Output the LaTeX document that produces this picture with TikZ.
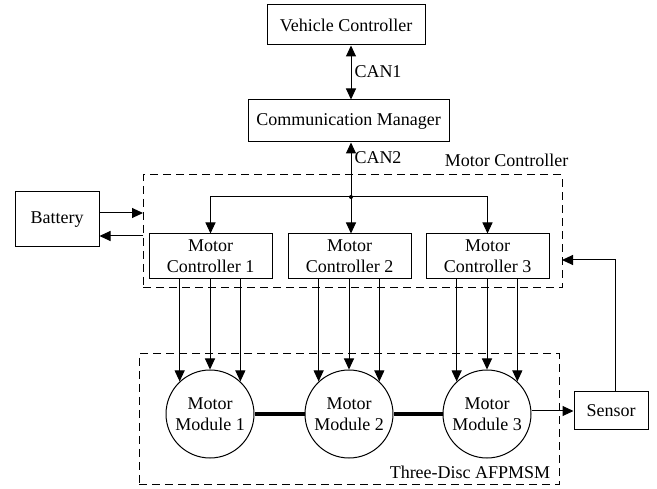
\documentclass[tikz,border=0pt]{standalone}
\usepackage{fontspec}
\setmainfont{Liberation Serif}
\newfontfamily\figserif{Liberation Serif}
\usetikzlibrary{arrows.meta}
\begin{document}
\begin{tikzpicture}[x=1pt,y=-1pt,
  line width=1pt,
  txt/.style={font=\figserif\fontsize{18}{21}\selectfont, inner sep=0pt},
  blk/.style={txt, draw, align=center},
  module/.style={txt, draw, circle, minimum size=88pt, align=center},
  group/.style={draw, dash pattern=on 8pt off 5pt, inner sep=0pt},
  arr/.style={-{Triangle[length=11pt,width=10pt]}},
  darr/.style={{Triangle[length=11pt,width=10pt]}-{Triangle[length=11pt,width=10pt]}},
  shaft/.style={line width=4.5pt}]
\useasboundingbox (0,0) rectangle (657,489);

% dashed group outlines
\node[group, minimum width=419pt, minimum height=113pt] (mcbox) at (352.5,231.5) {};
\node[group, minimum width=420pt, minimum height=131pt] (afpm) at (349,419.5) {};
\node[txt] (mclabel) at (506.5,160) {Motor Controller};
\node[txt] (afpmlabel) at (470,472) {Three-Disc AFPMSM};

% upper blocks
\node[blk, minimum width=158pt, minimum height=40pt] (vc) at (346,25) {Vehicle Controller};
\node[blk, minimum width=201pt, minimum height=42pt] (cm) at (348.5,121) {Communication Manager};
\node[blk, minimum width=84pt, minimum height=55pt] (bat) at (57,219.5) {Battery};

% motor controllers
\node[blk, minimum width=123pt, minimum height=45pt] (c1) at (210.5,256.5) {Motor\\Controller 1};
\node[blk, minimum width=123pt, minimum height=45pt] (c2) at (349.5,256.5) {Motor\\Controller 2};
\node[blk, minimum width=123pt, minimum height=45pt] (c3) at (487.5,256.5) {Motor\\Controller 3};

% motor modules
\node[module] (m1) at (210,414) {Motor\\Module 1};
\node[module] (m2) at (349,414) {Motor\\Module 2};
\node[module] (m3) at (487,414) {Motor\\Module 3};

\node[blk, minimum width=74pt, minimum height=38pt] (sen) at (611,411) {Sensor};

% bus junction and helper points
\coordinate (j) at (351,197);
\coordinate (bin) at (143,213);
\coordinate (bout) at (143,236);
\coordinate (fb) at (562,260);

% CAN links
\draw[darr] (j |- vc.south) -- (j |- cm.north);
\node[txt, anchor=west] (can1) at (354,72) {CAN1};
\draw[arr] (j) -- (j |- cm.south);
\node[txt, anchor=west] (can2) at (354,158) {CAN2};
\fill (j) circle (2pt);

% distribution bus
\draw[arr] (j) -| (c1.north);
\draw[arr] (j) -| (c3.north);
\draw[arr] (j) -- (j |- c2.north);

% battery links
\draw[arr] (bin -| bat.east) -- (bin);
\draw[arr] (bout) -- (bout -| bat.east);

% three-phase feeds
\foreach \c/\m in {c1/m1, c2/m2, c3/m3} {
  \draw[arr] (\m.133 |- \c.south) -- (\m.133);
  \draw[arr] (\m.north |- \c.south) -- (\m.north);
  \draw[arr] (\m.47 |- \c.south) -- (\m.47);
}

% mechanical coupling
\draw[shaft] (m1.east) -- (m2.west);
\draw[shaft] (m2.east) -- (m3.west);

% sensor loop
\draw[arr] (m3.east |- sen.west) -- (sen.west);
\draw[arr] (sen.north -| 615,0) |- (fb);
\end{tikzpicture}
\end{document}
